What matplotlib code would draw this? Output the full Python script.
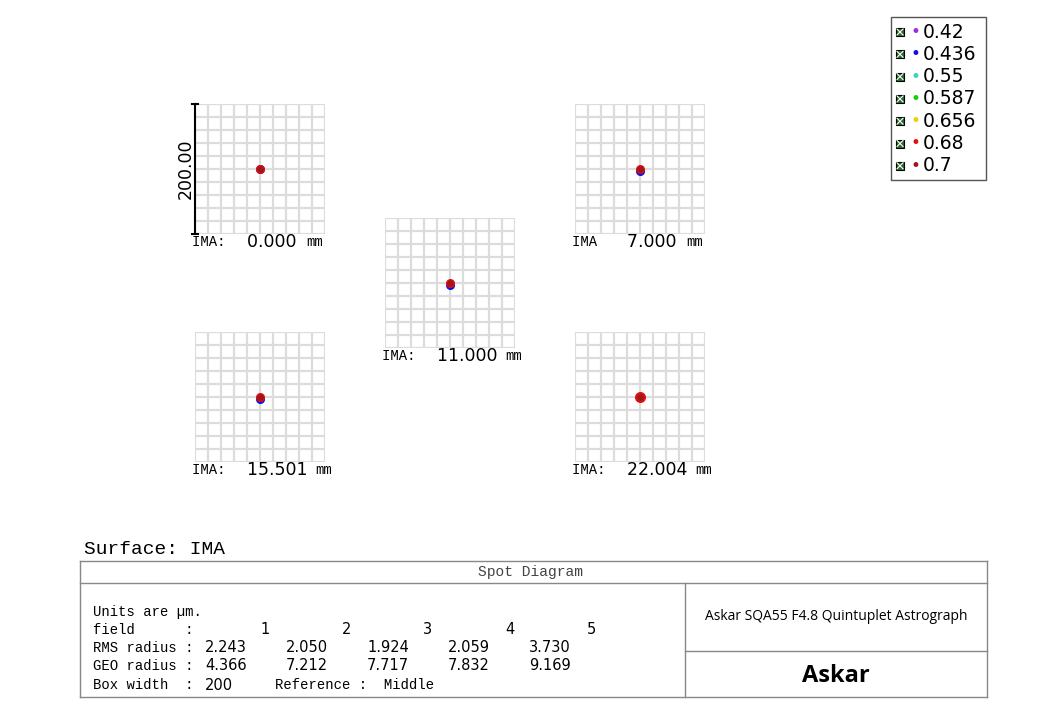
import matplotlib
matplotlib.use("Agg")
import matplotlib.pyplot as plt
from matplotlib.patches import Rectangle

W, H = 1062, 705
wavelengths = ["0.42", "0.436", "0.55", "0.587", "0.656", "0.68", "0.7"]
wl_colors = ["#9b30d9", "#1010e0", "#40d0c0", "#10d010", "#f0d000", "#e01010", "#a01818"]
fields = ["0.000", "7.000", "11.000", "15.501", "22.004"]
# spot centroid offsets (um) for blue and red wavelengths, per field
blue_y = [0.0, -3.0, -3.0, -3.0, 0.0]
red_y = [0.0, 0.0, 0.0, 0.0, 0.0]
red_h = [1.0, 1.0, 1.0, 1.0, 1.6]
rms = ["2.243", "2.050", "1.924", "2.059", "3.730"]
geo = ["4.366", "7.212", "7.717", "7.832", "9.169"]
box_width = 200

fig = plt.figure(figsize=(W/100, H/100), dpi=100)
mono = "Liberation Mono"

def fx(x): return x / W
def fy(y): return 1 - y / H

boxes = [(195, 104), (575, 104), (385, 218), (195, 332), (575, 332)]
labels = ["IMA: 0.000 mm", "IMA  7.000 mm", "IMA: 11.000 mm", "IMA: 15.501 mm", "IMA: 22.004 mm"]
for i, (x0, y0) in enumerate(boxes):
    ax = fig.add_axes([fx(x0), fy(y0 + 130), 130 / W, 130 / H])
    ax.set_xlim(-100, 100); ax.set_ylim(-100, 100)
    for t in range(-100, 101, 20):
        ax.axvline(t, color="#dcdcdc", lw=1.6, zorder=0)
        ax.axhline(t, color="#dcdcdc", lw=1.6, zorder=0)
    ax.set_xticks([]); ax.set_yticks([])
    for s in ax.spines.values():
        s.set_visible(False)
    ax.scatter([0], [blue_y[i]], s=30, color=wl_colors[1], zorder=2)
    ax.scatter([0], [red_y[i]], s=30 * red_h[i], color=wl_colors[5], zorder=3)
    ax.scatter([0], [red_y[i] + 0.5], s=14, color=wl_colors[6], zorder=4)
    lab = labels[i]
    fig.text(fx(x0 - 3), fy(y0 + 138), lab.split(fields[i])[0], fontsize=10, family=mono, va="center")
    fig.text(fx(x0 + 52), fy(y0 + 138), fields[i] + " ", fontsize=12.5, family="DejaVu Sans", va="center")
    fig.text(fx(x0 + 52 + 12 * len(fields[i]) * 0.75 + 14), fy(y0 + 138), "mm", fontsize=10, family=mono, va="center")

# scale bar on first box
fig.add_artist(plt.Line2D([fx(195), fx(195)], [fy(104), fy(234)], color="black", lw=1.5))
fig.add_artist(plt.Line2D([fx(192), fx(198)], [fy(104), fy(104)], color="black", lw=1.5))
fig.add_artist(plt.Line2D([fx(192), fx(198)], [fy(234), fy(234)], color="black", lw=1.5))
fig.text(fx(186), fy(169), "200.00", rotation=90, fontsize=12.5, family="DejaVu Sans", ha="center", va="center")

# legend
fig.add_artist(Rectangle((fx(891), fy(180)), 95 / W, 163 / H, fill=False, ec="#555555", lw=1))
for k, (w, c) in enumerate(zip(wavelengths, wl_colors)):
    yy = 32 + k * 22.3
    fig.add_artist(Rectangle((fx(896), fy(yy + 4)), 8 / W, 8 / H, fc="#2a6a2a", ec="black", lw=0.8))
    fig.add_artist(plt.Line2D([fx(897), fx(903)], [fy(yy - 3), fy(yy + 3)], color="white", lw=0.8))
    fig.add_artist(plt.Line2D([fx(897), fx(903)], [fy(yy + 3), fy(yy - 3)], color="white", lw=0.8))
    fig.text(fx(915), fy(yy), "•", color=c, fontsize=12, ha="center", va="center")
    fig.text(fx(923), fy(yy), w, fontsize=13.5, family="DejaVu Sans", va="center")

# bottom panel
fig.text(fx(84), fy(550), "Surface: IMA", fontsize=14, family=mono, va="center")
def hline(x0, x1, y): fig.add_artist(plt.Line2D([fx(x0), fx(x1)], [fy(y), fy(y)], color="#888888", lw=1))
def vline(x, y0, y1): fig.add_artist(plt.Line2D([fx(x), fx(x)], [fy(y0), fy(y1)], color="#888888", lw=1))
hline(80, 987, 561); hline(80, 987, 583); hline(80, 987, 697); hline(685, 987, 651)
vline(80, 561, 697); vline(987, 561, 697); vline(685, 583, 697)
fig.text(fx(530), fy(572), "Spot Diagram", fontsize=10.5, family=mono, ha="center", va="center", color="#444444")
fig.text(fx(93), fy(612), "Units are µm.", fontsize=10, family=mono, va="center")
fig.text(fx(93), fy(630), "field      :", fontsize=10, family=mono, va="center")
for j in range(5):
    fig.text(fx(265 + j * 81.5), fy(630), str(j + 1), fontsize=10.5, family="DejaVu Sans", ha="center", va="center")
fig.text(fx(93), fy(648), "RMS radius :", fontsize=10, family=mono, va="center")
fig.text(fx(93), fy(666), "GEO radius :", fontsize=10, family=mono, va="center")
for j in range(5):
    fig.text(fx(205 + j * 81), fy(648), rms[j], fontsize=10.5, family="DejaVu Sans", va="center")
    fig.text(fx(205 + j * 81), fy(666), geo[j], fontsize=10.5, family="DejaVu Sans", va="center")
fig.text(fx(93), fy(685), "Box width  :", fontsize=10, family=mono, va="center")
fig.text(fx(205), fy(685), str(box_width), fontsize=10.5, family="DejaVu Sans", va="center")
fig.text(fx(275), fy(685), "Reference :  Middle", fontsize=10, family=mono, va="center")
fig.text(fx(836), fy(617), "Askar SQA55 F4.8 Quintuplet Astrograph", fontsize=10, family="Open Sans", ha="center", va="center")
fig.text(fx(836), fy(676), "Askar", fontsize=17, family="Open Sans", weight="bold", ha="center", va="center")

fig.savefig("out.png", dpi=100)
